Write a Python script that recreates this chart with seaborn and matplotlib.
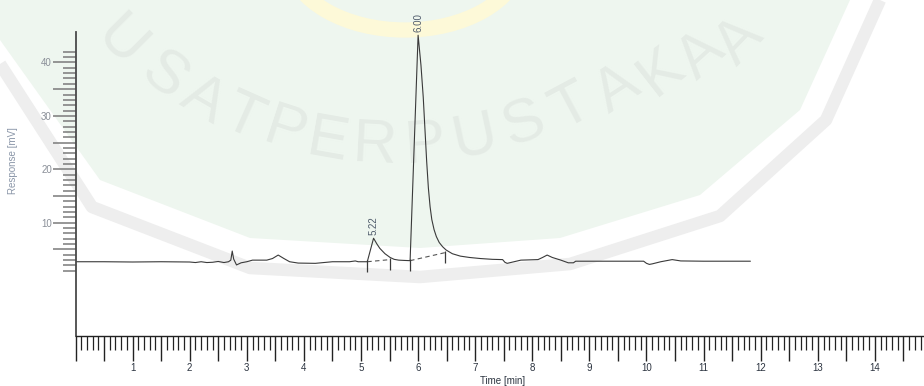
import matplotlib
matplotlib.use("Agg")
import matplotlib.pyplot as plt
from matplotlib.patches import Polygon, Arc
from matplotlib.lines import Line2D
from matplotlib.ticker import FixedLocator, FuncFormatter, MultipleLocator
import numpy as np
import pandas as pd
import seaborn as sns

# Chromatogram trace: retention time (min) and detector response (mV)
time_min = [0.00, 0.50, 1.00, 1.50, 2.00, 2.10, 2.20, 2.30, 2.40, 2.50, 2.60, 2.68,
            2.72, 2.745, 2.77, 2.82, 2.90, 3.00, 3.10, 3.25, 3.35, 3.45, 3.55, 3.65,
            3.75, 3.90, 4.20, 4.50, 4.80, 4.90, 4.95, 5.11, 5.22, 5.28, 5.33, 5.42,
            5.51, 5.58, 5.66, 5.75, 5.86, 6.00, 6.05, 6.09, 6.12, 6.15, 6.18, 6.21,
            6.24, 6.28, 6.32, 6.37, 6.43, 6.49, 6.60, 6.74, 6.90, 7.09, 7.30, 7.48,
            7.52, 7.56, 7.62, 7.80, 8.10, 8.18, 8.26, 8.35, 8.50, 8.63, 8.72, 8.76,
            9.00, 9.50, 9.95, 10.00, 10.05, 10.10, 10.25, 10.45, 10.60, 11.00, 11.40,
            11.82]
response_mv = [2.70, 2.70, 2.65, 2.70, 2.65, 2.55, 2.70, 2.55, 2.60, 2.75, 2.55, 2.70,
               3.00, 4.70, 3.20, 2.10, 2.50, 2.70, 3.00, 3.00, 3.00, 3.30, 3.95, 3.30,
               2.70, 2.45, 2.40, 2.70, 2.70, 2.85, 2.70, 2.70, 7.10, 6.00, 5.20, 4.20,
               3.50, 3.15, 3.00, 2.95, 2.90, 45.10, 39.50, 33.50, 27.50, 21.50, 16.50, 13.00,
               10.60, 8.70, 7.40, 6.30, 5.50, 4.90, 4.20, 3.75, 3.50, 3.30, 3.15, 3.10,
               2.60, 2.40, 2.55, 3.00, 3.10, 3.50, 3.95, 3.50, 3.00, 2.50, 2.50, 2.80,
               2.80, 2.80, 2.80, 2.40, 2.20, 2.30, 2.70, 3.10, 2.85, 2.80, 2.80,
               2.80]

# Labelled peaks (retention times)
peak_times = [5.22, 6.00]

# Integration events: peak start/end markers and the drawn baselines between them
event_times = [5.11, 5.51, 5.86, 6.47]
event_base_mv = [2.70, 3.10, 2.90, 4.40]
baseline_t0 = [5.11, 5.86]
baseline_t1 = [5.51, 6.47]
baseline_y0 = [2.70, 2.90]
baseline_y1 = [3.10, 4.40]

# Axis ticks
x_label_ticks = list(range(1, 15))
y_label_ticks = [10, 20, 30, 40]

# Library stamp lettering: (character, x px, y px, angle)
stamp_letters = [("U", 120, 42, -45), ("S", 163, 77, -38), ("A", 203, 101, -30),
                 ("T", 243, 118, -24), ("P", 285, 133, -18), ("E", 328, 142, -10),
                 ("R", 375, 147, -3), ("P", 425, 146, 4), ("U", 475, 138, 12),
                 ("S", 524, 125, 20), ("T", 572, 108, 28), ("A", 618, 90, 33),
                 ("K", 662, 72, 38), ("A", 702, 56, 42), ("A", 740, 42, 46)]

sns.set_style("ticks")
plt.rcParams["font.family"] = ["Liberation Sans", "DejaVu Sans"]

W, H = 924, 386
fig = plt.figure(figsize=(W / 100, H / 100), dpi=100)


def px(pts):
    """Pixel positions (from top-left) to figure fractions."""
    return [(x / W, 1 - y / H) for x, y in pts]


# Faint library stamp behind the plot: tinted shield, pale rim and lettering
stamp_fill = [(0, 0), (0, 40), (100, 180), (250, 238), (420, 248), (560, 238),
              (700, 195), (800, 110), (850, 0)]
fig.patches.append(Polygon(px(stamp_fill), closed=True, transform=fig.transFigure,
                           facecolor="#eef6ef", edgecolor="none", zorder=-5))
stamp_rim = [(0, 64), (92, 207), (250, 268), (420, 277), (570, 264), (720, 216),
             (826, 120), (880, 0)]
rim_xy = np.array(px(stamp_rim))
fig.lines.append(Line2D(rim_xy[:, 0], rim_xy[:, 1], transform=fig.transFigure,
                        color="#eeeeee", linewidth=9, solid_joinstyle="round",
                        solid_capstyle="butt", zorder=-5))
fig.patches.append(Arc((405 / W, 1 + 45 / H), 235 / W, 150 / H, theta1=190, theta2=350,
                       transform=fig.transFigure, color="#fdf9d8", linewidth=11,
                       zorder=-4))
for ch, lx, ly, ang in stamp_letters:
    fig.text(lx / W, 1 - ly / H, ch, fontsize=44, color="#e4ebe5", rotation=ang,
             ha="center", va="center", rotation_mode="anchor", zorder=-3)

ax = fig.add_axes([75.5 / W, 50 / H, 1 - 75.5 / W, 304 / H])
ax.set_zorder(1)
ax.patch.set_alpha(0)

trace = pd.DataFrame({"time": time_min, "response": response_mv})
sns.lineplot(data=trace, x="time", y="response", ax=ax, estimator=None, sort=False,
             color="#3a3a3a", linewidth=0.8)

# Integration baselines (dashed) and event markers
for t0, t1, y0, y1 in zip(baseline_t0, baseline_t1, baseline_y0, baseline_y1):
    ax.plot([t0, t1], [y0, y1], color="#555555", linewidth=0.8, linestyle=(0, (4, 3)))
ax.vlines(event_times, [b - 1.9 for b in event_base_mv], [b + 0.35 for b in event_base_mv],
          color="#3a3a3a", linewidth=0.9)

# Retention-time labels above each peak apex
resp_lookup = dict(zip(time_min, response_mv))
for t in peak_times:
    ax.annotate(f"{t:.2f}", xy=(t, resp_lookup[t]), xytext=(0, 2.5),
                textcoords="offset points", rotation=90, ha="center", va="bottom",
                fontsize=7, color="#4f5b6b")

ax.set_xlim(0, 14.86)
ax.set_ylim(-11.2, 45.7)

for side in ("top", "right"):
    ax.spines[side].set_visible(False)
ax.spines["left"].set_color("#4a4a4a")
ax.spines["left"].set_linewidth(1.3)
ax.spines["bottom"].set_color("#222222")
ax.spines["bottom"].set_linewidth(1.0)

# x axis: long ticks every 0.5 min, short every 0.1 min, numbers on whole minutes
ax.xaxis.set_major_locator(MultipleLocator(0.5))
ax.xaxis.set_minor_locator(MultipleLocator(0.1))
ax.xaxis.set_major_formatter(FuncFormatter(
    lambda v, pos: f"{int(round(v))}" if int(round(v)) in x_label_ticks and abs(v - round(v)) < 1e-6 else ""))
ax.tick_params(axis="x", which="major", length=18, width=1.0, color="#222222",
               labelsize=7, labelcolor="#2c3440", pad=1.5)
ax.tick_params(axis="x", which="minor", length=10, width=0.9, color="#222222")

# y axis: long ticks every 5 mV, short every 1 mV, numbers every 10 mV
y_major = [v for v in range(5, 41, 5)]
y_minor = [v for v in range(1, 43) if v % 5 != 0]
ax.yaxis.set_major_locator(FixedLocator(y_major))
ax.yaxis.set_minor_locator(FixedLocator(y_minor))
ax.yaxis.set_major_formatter(FuncFormatter(lambda v, pos: f"{int(v)}" if int(v) in y_label_ticks else ""))
ax.tick_params(axis="y", which="major", length=16.5, width=1.1, color="#7a7a7a",
               labelsize=7, labelcolor="#8a8f98", pad=0.5)
ax.tick_params(axis="y", which="minor", length=9.5, width=1.1, color="#7a7a7a")

ax.set_xlabel("Time [min]", fontsize=7, color="#2c3440", labelpad=-1)
ax.set_ylabel("Response [mV]", fontsize=7, color="#8a96a8", labelpad=8)
ax.yaxis.set_label_coords(-58 / 848.5, (386 - 161 - 50) / 304)
ax.xaxis.set_label_coords((503 - 75.5) / 848.5, -40 / 304)

fig.savefig("out.png", dpi=100)
